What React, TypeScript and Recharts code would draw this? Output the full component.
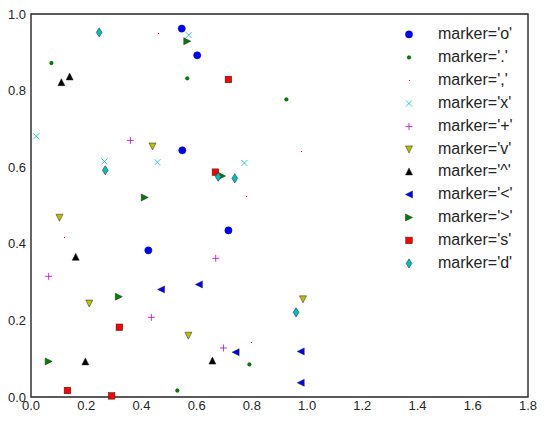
import React from "react";
import {
  ScatterChart,
  Scatter,
  XAxis,
  YAxis,
  ReferenceArea,
  Legend
} from "recharts";

// values, one list of [x, y] per marker style
const circlePts = [[0.546, 0.962], [0.602, 0.892], [0.548, 0.644], [0.425, 0.383], [0.715, 0.435]];
const pointPts = [[0.074, 0.872], [0.566, 0.832], [0.925, 0.777], [0.530, 0.017], [0.791, 0.085]];
const pixelPts = [[0.461, 0.948], [0.779, 0.524], [0.979, 0.641], [0.120, 0.417], [0.798, 0.142]];
const xPts = [[0.571, 0.945], [0.019, 0.681], [0.266, 0.615], [0.458, 0.613], [0.773, 0.611]];
const plusPts = [[0.360, 0.670], [0.064, 0.315], [0.436, 0.208], [0.669, 0.362], [0.697, 0.128]];
const triDownPts = [[0.440, 0.654], [0.103, 0.468], [0.211, 0.244], [0.570, 0.160], [0.985, 0.255]];
const triUpPts = [[0.110, 0.822], [0.140, 0.837], [0.162, 0.366], [0.197, 0.093], [0.657, 0.095]];
const triLeftPts = [[0.471, 0.281], [0.608, 0.294], [0.741, 0.117], [0.977, 0.119], [0.977, 0.037]];
const triRightPts = [[0.566, 0.929], [0.412, 0.521], [0.692, 0.577], [0.318, 0.262], [0.064, 0.093]];
const squarePts = [[0.715, 0.829], [0.668, 0.587], [0.320, 0.182], [0.132, 0.017], [0.292, 0.003]];
const diamondPts = [[0.247, 0.952], [0.269, 0.592], [0.678, 0.575], [0.738, 0.571], [0.960, 0.221]];

const xTicks = [0, 0.2, 0.4, 0.6, 0.8, 1.0, 1.2, 1.4, 1.6, 1.8];
const yTicks = [0, 0.2, 0.4, 0.6, 0.8, 1.0];

const ink = "#262626";
const edge = "#222";

const series = [
  { kind: "o", label: "marker='o'", color: "#0000ff", pts: circlePts },
  { kind: ".", label: "marker='.'", color: "#008000", pts: pointPts },
  { kind: ",", label: "marker=','", color: "#ff0000", pts: pixelPts },
  { kind: "x", label: "marker='x'", color: "#00bfbf", pts: xPts },
  { kind: "+", label: "marker='+'", color: "#bf00bf", pts: plusPts },
  { kind: "v", label: "marker='v'", color: "#bfbf00", pts: triDownPts },
  { kind: "^", label: "marker='^'", color: "#000000", pts: triUpPts },
  { kind: "<", label: "marker='<'", color: "#0000ff", pts: triLeftPts },
  { kind: ">", label: "marker='>'", color: "#008000", pts: triRightPts },
  { kind: "s", label: "marker='s'", color: "#ff0000", pts: squarePts },
  { kind: "d", label: "marker='d'", color: "#00bfbf", pts: diamondPts }
];

const Mark = ({ kind, color, cx, cy }: { kind: string; color: string; cx: number; cy: number }) => {
  const h = 3.5;
  const sw = 0.5;
  switch (kind) {
    case "o":
      return <circle cx={cx} cy={cy} r={3.6} fill={color} stroke="#00008a" strokeWidth={sw} />;
    case ".":
      return <circle cx={cx} cy={cy} r={1.9} fill={color} stroke="#005000" strokeWidth={0.3} />;
    case ",":
      return <rect x={Math.floor(cx)} y={Math.floor(cy)} width={1} height={1} fill={color} shapeRendering="crispEdges" />;
    case "x":
      return (
        <g stroke={color} strokeWidth={0.8}>
          <line x1={cx - 3} y1={cy - 3} x2={cx + 3} y2={cy + 3} />
          <line x1={cx - 3} y1={cy + 3} x2={cx + 3} y2={cy - 3} />
        </g>
      );
    case "+":
      return (
        <g stroke={color} strokeWidth={0.8}>
          <line x1={cx - 3.5} y1={cy} x2={cx + 3.5} y2={cy} />
          <line x1={cx} y1={cy - 3.5} x2={cx} y2={cy + 3.5} />
        </g>
      );
    case "v":
      return <polygon points={`${cx - h},${cy - h} ${cx + h},${cy - h} ${cx},${cy + h}`} fill={color} stroke={edge} strokeWidth={sw} />;
    case "^":
      return <polygon points={`${cx - h},${cy + h} ${cx + h},${cy + h} ${cx},${cy - h}`} fill={color} stroke={edge} strokeWidth={sw} />;
    case "<":
      return <polygon points={`${cx + h},${cy - h} ${cx + h},${cy + h} ${cx - h},${cy}`} fill={color} stroke={edge} strokeWidth={sw} />;
    case ">":
      return <polygon points={`${cx - h},${cy - h} ${cx - h},${cy + h} ${cx + h},${cy}`} fill={color} stroke={edge} strokeWidth={sw} />;
    case "s":
      return <rect x={cx - 3.3} y={cy - 3.3} width={6.6} height={6.6} fill={color} stroke={edge} strokeWidth={sw} />;
    case "d":
      return (
        <polygon
          points={`${cx},${cy - 4.6} ${cx + 2.9},${cy} ${cx},${cy + 4.6} ${cx - 2.9},${cy}`}
          fill={color}
          stroke={edge}
          strokeWidth={sw}
        />
      );
    default:
      return null;
  }
};

const LegendBox = () => (
  <div style={{ fontFamily: "'Liberation Sans', Arial, sans-serif", fontSize: 16, color: ink }}>
    {series.map((s) => (
      <div key={s.kind} style={{ display: "flex", alignItems: "center", height: 22.86 }}>
        <svg width={18} height={22.86} style={{ display: "block" }}>
          <Mark kind={s.kind} color={s.color} cx={9} cy={11.43} />
        </svg>
        <span style={{ marginLeft: 20, lineHeight: "22.86px" }}>{s.label}</span>
      </div>
    ))}
  </div>
);

const tickStyle = { fill: ink, fontSize: 13, fontFamily: "'Liberation Sans', Arial, sans-serif" };

export default function App() {
  return (
    <div style={{ position: "absolute", left: 0, top: 0, background: "#fff" }}>
      <ScatterChart width={544} height={422} margin={{ top: 14, right: 16, left: 0, bottom: 0 }}>
        <XAxis
          type="number"
          dataKey="x"
          domain={[0, 1.8]}
          ticks={xTicks}
          tickFormatter={(v: number) => v.toFixed(1)}
          height={25}
          tickSize={0}
          tickMargin={4}
          axisLine={false}
          tick={tickStyle}
          interval={0}
        />
        <YAxis
          type="number"
          dataKey="y"
          domain={[0, 1]}
          ticks={yTicks}
          tickFormatter={(v: number) => v.toFixed(1)}
          width={31}
          tickSize={0}
          tickMargin={5}
          axisLine={false}
          tick={tickStyle}
          interval={0}
        />
        <ReferenceArea x1={0} x2={1.8} y1={0} y2={1} fill="none" stroke={ink} strokeWidth={1.4} />
        {series.map((s) => (
          <Scatter
            key={s.kind}
            name={s.label}
            data={s.pts.map(([x, y]) => ({ x, y }))}
            isAnimationActive={false}
            shape={(p: any) => <Mark kind={s.kind} color={s.color} cx={p.cx} cy={p.cy} />}
          />
        ))}
        <Legend
          layout="vertical"
          align="center"
          verticalAlign="middle"
          wrapperStyle={{ left: 400, top: 23.3, width: 140 }}
          content={() => <LegendBox />}
        />
      </ScatterChart>
    </div>
  );
}
